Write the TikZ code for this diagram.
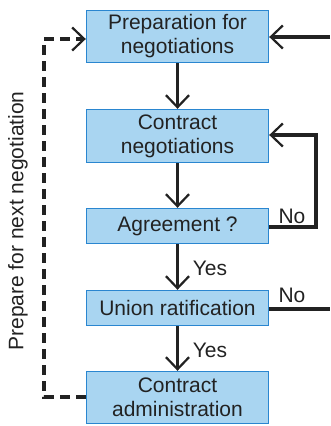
\documentclass[tikz,border=0pt]{standalone}
\usepackage{fontspec}
\setmainfont{Liberation Sans}
\usetikzlibrary{arrows.meta}
\definecolor{boxfill}{HTML}{A9D5F1}
\definecolor{boxedge}{HTML}{2A86D0}
\definecolor{ink}{HTML}{222222}
\begin{document}
\begin{tikzpicture}[x=1pt,y=-1pt,
  box/.style={draw=boxedge,fill=boxfill,line width=1.4pt,minimum width=182pt,inner sep=0pt,align=center,text=ink,font=\fontsize{21}{24}\selectfont},
  flow/.style={draw=ink,line width=3.2pt,-{Straight Barb[length=12pt,width=23pt,line width=2.2pt]}},
  plain/.style={draw=ink,line width=3.2pt},
  lbl/.style={text=ink,font=\fontsize{21}{24}\selectfont,inner sep=0pt}]
\useasboundingbox (0,0) rectangle (330,426);
\node[box,minimum height=52pt] (b1) at (177.5,36.5) {Preparation for\\negotiations};
\node[box,minimum height=53pt] (b2) at (177.5,136) {Contract\\negotiations};
\node[box,minimum height=35pt] (b3) at (177.5,226) {Agreement ?};
\node[box,minimum height=35pt] (b4) at (177.5,308) {Union ratification};
\node[box,minimum height=52pt] (b5) at (177.5,397.5) {Contract\\administration};
\coordinate (inR) at (330,37);
\coordinate (outR) at (330,309);
\coordinate (loopA) at (316,227);
\coordinate (loopB) at (316,135);
\coordinate (dA) at (44,397);
\coordinate (dB) at (44,39);
\draw[flow] (b1.south) -- (b2.north);
\draw[flow] (b2.south) -- (b3.north);
\draw[flow] (b3.south) -- (b4.north);
\draw[flow] (b4.south) -- (b5.north);
\draw[flow] (inR) -- (b1.east |- inR);
\draw[flow] (b3.east |- loopA) -- (loopA) -- (loopB) -- (b2.east |- loopB);
\draw[plain] (b4.east |- outR) -- (outR);
\draw[flow,dash pattern=on 10pt off 6pt] (b5.west |- dA) -- (dA) -- (dB) -- (b1.west |- dB);
\node[lbl] (y1) at (210,268) {Yes};
\node[lbl] (y2) at (210,350) {Yes};
\node[lbl] (n1) at (292,216) {No};
\node[lbl] (n2) at (292,295) {No};
\node[lbl,rotate=90] (side) at (18,221) {Prepare for next negotiation};
\end{tikzpicture}
\end{document}
